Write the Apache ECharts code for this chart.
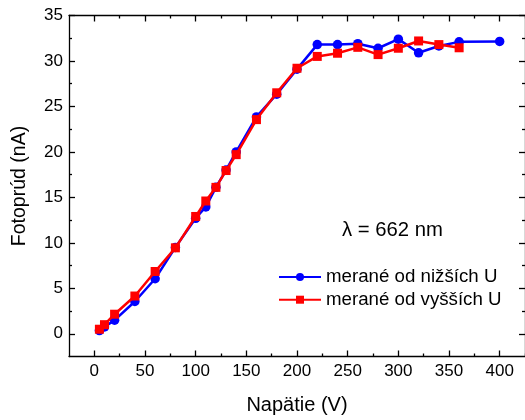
<!DOCTYPE html>
<html>
<head>
<meta charset="utf-8">
<script src="https://cdn.jsdelivr.net/npm/echarts@6/dist/echarts.min.js"></script>
<style>html,body{margin:0;padding:0;background:#fff;}#c{width:525px;height:420px;}</style>
</head>
<body>
<div id="c"></div>
<script>
// Data
const voltageLow = [5, 10, 20, 40, 60, 80, 100, 110, 120, 130, 140, 160, 180, 200, 220, 240, 260, 280, 300, 320, 340, 360, 400];
const currentLow = [0.35, 0.75, 1.5, 3.55, 6.05, 9.5, 12.7, 13.95, 16.1, 18.0, 20.0, 23.85, 26.35, 29.1, 31.8, 31.8, 31.9, 31.4, 32.4, 30.9, 31.65, 32.1, 32.15];
const voltageHigh = [5, 10, 20, 40, 60, 80, 100, 110, 120, 130, 140, 160, 180, 200, 220, 240, 260, 280, 300, 320, 340, 360];
const currentHigh = [0.5, 1.0, 2.15, 4.15, 6.85, 9.45, 12.9, 14.6, 16.1, 17.95, 19.7, 23.55, 26.5, 29.2, 30.5, 30.85, 31.5, 30.7, 31.4, 32.2, 31.8, 31.45];
const seriesNames = ['merané od nižších U', 'merané od vyšších U'];
const xMajorTicks = [0, 50, 100, 150, 200, 250, 300, 350, 400];
const xMinorTicks = [25, 75, 125, 175, 225, 275, 325, 375, 425];
const yMajorTicks = [0, 5, 10, 15, 20, 25, 30, 35];
const yMinorTicks = [2.5, 7.5, 12.5, 17.5, 22.5, 27.5, 32.5];
const xTitle = 'Napätie (V)';
const yTitle = 'Fotoprúd (nA)';
const annotation = 'λ = 662 nm';

const FONT = '"Liberation Sans", Arial, sans-serif';
const X_MIN = -25, X_MAX = 425, Y_MIN = -2.5, Y_MAX = 35;

function xAx(pos, customTicks, len, showLine, showLabel) {
  return {
    type: 'value', position: pos, offset: 0, min: X_MIN, max: X_MAX,
    axisLine: { show: showLine, onZero: false, lineStyle: { color: '#000', width: 1.3 } },
    axisTick: { show: true, inside: true, length: len, customValues: customTicks, lineStyle: { color: '#000', width: 1.3 } },
    axisLabel: showLabel ? { show: true, customValues: xMajorTicks, margin: 6, color: '#000', fontFamily: FONT, fontSize: 17 } : { show: false },
    splitLine: { show: false }
  };
}
function yAx(pos, customTicks, len, showLine, showLabel) {
  return {
    type: 'value', position: pos, offset: 0, min: Y_MIN, max: Y_MAX,
    axisLine: { show: showLine, onZero: false, lineStyle: { color: '#000', width: 1.3 } },
    axisTick: { show: true, inside: true, length: len, customValues: customTicks, lineStyle: { color: '#000', width: 1.3 } },
    axisLabel: showLabel ? { show: true, customValues: yMajorTicks, margin: 6, color: '#000', fontFamily: FONT, fontSize: 17 } : { show: false },
    splitLine: { show: false }
  };
}

const xAxes = [
  xAx('bottom', xMajorTicks, 6, true, true),
  xAx('bottom', xMinorTicks, 3, false, false),
  xAx('top', xMajorTicks, 6, true, false),
  xAx('top', xMinorTicks, 3, false, false)
];
Object.assign(xAxes[0], { name: xTitle, nameLocation: 'middle', nameGap: 38.5, nameTextStyle: { color: '#000', fontFamily: FONT, fontSize: 20 } });
const yAxes = [
  yAx('left', yMajorTicks, 6, true, true),
  yAx('left', yMinorTicks, 3, false, false),
  yAx('right', yMajorTicks, 6, true, false),
  yAx('right', yMinorTicks, 3, false, false)
];
Object.assign(yAxes[0], { name: yTitle, nameLocation: 'middle', nameGap: 39, nameTextStyle: { color: '#000', fontFamily: FONT, fontSize: 19.5 } });

const chart = echarts.init(document.getElementById('c'), null, { renderer: 'canvas' });
chart.setOption({
  animation: false,
  backgroundColor: '#fff',
  grid: { left: 69, right: -1.4, top: 15.5, bottom: 61.7, containLabel: false },
  xAxis: xAxes,
  yAxis: yAxes,
  legend: {
    orient: 'vertical', left: 273, top: 262, itemWidth: 42, itemHeight: 10, itemGap: 2.7,
    textStyle: { color: '#000', fontFamily: FONT, fontSize: 18.7, lineHeight: 20 },
    data: seriesNames
  },
  graphic: [{
    type: 'text', left: 342, top: 220.5,
    style: { text: annotation, fill: '#000', font: '20.3px ' + FONT }
  }],
  series: [
    {
      name: seriesNames[0], type: 'line', xAxisIndex: 0, yAxisIndex: 0,
      data: voltageLow.map((v, i) => [v, currentLow[i]]),
      color: '#0000ff', symbol: 'circle', symbolSize: 9.5,
      lineStyle: { width: 2.5, color: '#0000ff' }, itemStyle: { color: '#0000ff' }, z: 2
    },
    {
      name: seriesNames[1], type: 'line', xAxisIndex: 0, yAxisIndex: 0,
      data: voltageHigh.map((v, i) => [v, currentHigh[i]]),
      color: '#ff0000', symbol: 'rect', symbolSize: 9,
      lineStyle: { width: 2.5, color: '#ff0000' }, itemStyle: { color: '#ff0000' }, z: 3
    }
  ]
});
</script>
</body>
</html>
